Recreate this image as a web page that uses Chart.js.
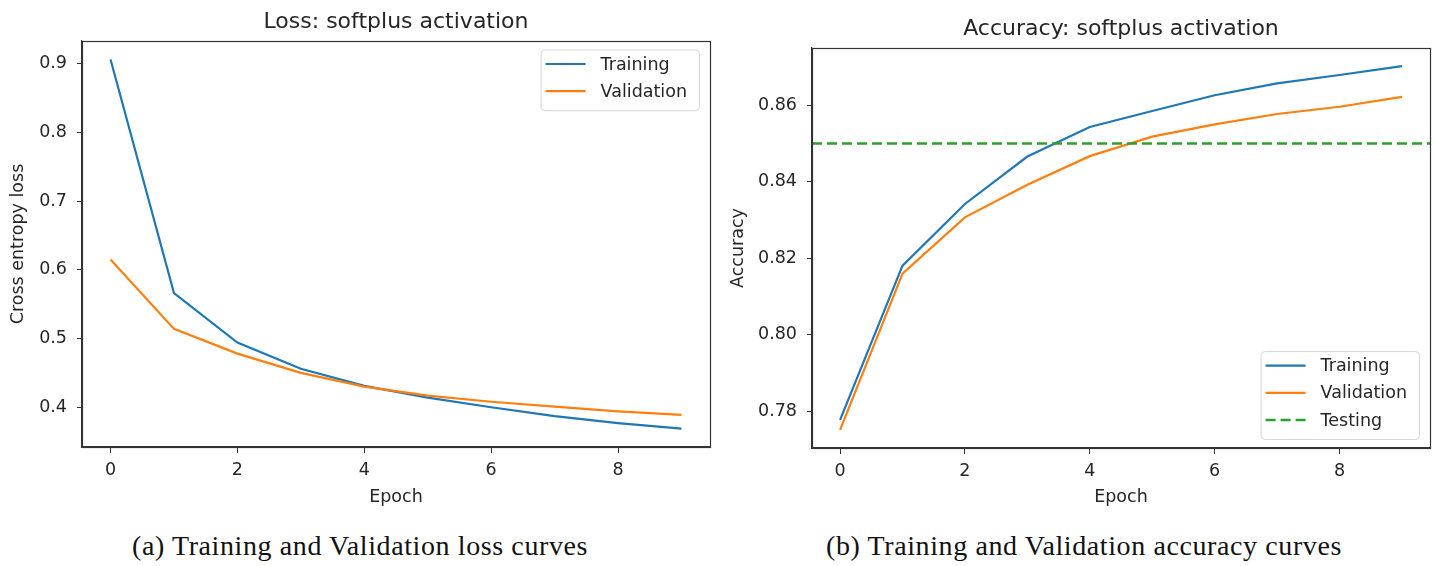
<!DOCTYPE html>
<html>
<head>
<meta charset="utf-8">
<script src="https://cdn.jsdelivr.net/npm/chart.js@4.4.0/dist/chart.umd.min.js"></script>
<style>
  html, body { margin: 0; padding: 0; background: #fff; }
  body { width: 1435px; height: 566px; position: relative; overflow: hidden; }
  .panel { position: absolute; top: 0; height: 520px; }
  .caption {
    position: absolute; top: 530px;
    font-family: "Liberation Serif", serif; font-size: 28px; line-height: 32px;
    letter-spacing: 0.6px;
    color: #111; white-space: nowrap; transform: translateX(-50%);
  }
</style>
</head>
<body>
<div class="panel" style="left:0;width:720px"><canvas id="lossChart" width="720" height="520"></canvas></div>
<div class="panel" style="left:720px;width:715px"><canvas id="accChart" width="715" height="520"></canvas></div>
<div class="caption" style="left:360px">(a) Training and Validation loss curves</div>
<div class="caption" style="left:1084px">(b) Training and Validation accuracy curves</div>
<script>
// softplus 학습 곡선 (loss / accuracy)

const epochs = [0, 1, 2, 3, 4, 5, 6, 7, 8, 9];
const lossTraining   = [0.906, 0.566, 0.494, 0.456, 0.431, 0.414, 0.400, 0.387, 0.377, 0.369];
const lossValidation = [0.615, 0.514, 0.478, 0.450, 0.430, 0.417, 0.408, 0.401, 0.394, 0.389];
const accTraining    = [0.7778, 0.8181, 0.8342, 0.8466, 0.8543, 0.8585, 0.8626, 0.8657, 0.8679, 0.8702];
const accValidation  = [0.7752, 0.8160, 0.8307, 0.8392, 0.8467, 0.8518, 0.8550, 0.8577, 0.8596, 0.8622];
const testAccuracy = 0.850;

const epochTicks = [0, 2, 4, 6, 8];
const lossTicks = [0.4, 0.5, 0.6, 0.7, 0.8, 0.9];
const accTicks = [0.78, 0.80, 0.82, 0.84, 0.86];

const BLUE = '#1f77b4';
const ORANGE = '#ff7f0e';
const GREEN = '#2ca02c';
const INK = '#262626';
const SPINE = '#333333';
const FONT = '"DejaVu Sans", sans-serif';
const TITLE_SIZE = 22;

Chart.defaults.font.family = FONT;
Chart.defaults.color = INK;

// matplotlib 기본 여백 (데이터 범위의 5%)
function paddedRange(values) {
    const lo = Math.min(...values);
    const hi = Math.max(...values);
    const pad = (hi - lo) * 0.05;
    return [lo - pad, hi + pad];
}

function points(ys) {
    return epochs.map((e, i) => ({ x: e, y: ys[i] }));
}

function roundRectPath(ctx, x, y, w, h, r) {
    ctx.beginPath();
    ctx.moveTo(x + r, y);
    ctx.lineTo(x + w - r, y);
    ctx.quadraticCurveTo(x + w, y, x + w, y + r);
    ctx.lineTo(x + w, y + h - r);
    ctx.quadraticCurveTo(x + w, y + h, x + w - r, y + h);
    ctx.lineTo(x + r, y + h);
    ctx.quadraticCurveTo(x, y + h, x, y + h - r);
    ctx.lineTo(x, y + r);
    ctx.quadraticCurveTo(x, y, x + r, y);
    ctx.closePath();
}

// 축 테두리 (4면)
const frame = {
    id: 'frame',
    afterDatasetsDraw(chart) {
        const a = chart.chartArea;
        const ctx = chart.ctx;
        ctx.save();
        ctx.strokeStyle = SPINE;
        ctx.lineWidth = 1.2;
        ctx.strokeRect(Math.round(a.left) + 0.5, Math.round(a.top) + 0.5,
            Math.round(a.right - a.left), Math.round(a.bottom - a.top));
        ctx.restore();
    }
};

// matplotlib 스타일 범례 박스
const boxLegend = {
    id: 'boxLegend',
    afterDraw(chart, args, opts) {
        const a = chart.chartArea;
        const ctx = chart.ctx;
        const items = chart.data.datasets;
        ctx.save();
        ctx.font = '17.5px ' + FONT;
        const textW = Math.max(...items.map(d => ctx.measureText(d.label).width));
        const w = 5 + 40 + 15 + textW + 12;
        const h = 14.5 + (items.length - 1) * 27.2 + 19;
        const x = a.right - 11 - w;
        const y = opts.loc === 'lower right' ? a.bottom - 9 - h : a.top + 8.5;

        roundRectPath(ctx, x + 0.5, y + 0.5, w, h, 4);
        ctx.fillStyle = 'rgba(255,255,255,0.8)';
        ctx.fill();
        ctx.strokeStyle = '#d6d6d6';
        ctx.lineWidth = 1;
        ctx.stroke();

        items.forEach((d, i) => {
            const cy = y + 14.5 + i * 27.2;
            ctx.strokeStyle = d.borderColor;
            ctx.lineWidth = d.borderWidth;
            ctx.setLineDash(d.borderDash || []);
            ctx.beginPath();
            ctx.moveTo(x + 5, cy);
            ctx.lineTo(x + 45, cy);
            ctx.stroke();
            ctx.setLineDash([]);
            ctx.fillStyle = INK;
            ctx.textBaseline = 'middle';
            ctx.textAlign = 'left';
            ctx.fillText(d.label, x + 60, cy + 1);
        });
        ctx.restore();
    }
};

function buildChart(canvasId, cfg) {
    const canvas = document.getElementById(canvasId);
    const W = canvas.width, H = canvas.height;
    const xRange = paddedRange(epochs);
    const titleLine = TITLE_SIZE * 1.2;

    return new Chart(canvas, {
        type: 'line',
        data: { datasets: cfg.datasets },
        plugins: [frame, boxLegend],
        options: {
            responsive: false,
            animation: false,
            layout: { padding: { left: 0, top: 0, right: W - cfg.area.right, bottom: 0 } },
            elements: { point: { radius: 0 }, line: { tension: 0 } },
            plugins: {
                legend: { display: false },
                tooltip: { enabled: false },
                title: {
                    display: true,
                    fullSize: false,   // 플롯 영역 기준 가운데 정렬
                    text: cfg.title,
                    color: INK,
                    font: { size: TITLE_SIZE, weight: 'normal' },
                    padding: { top: cfg.titleTop, bottom: cfg.area.top - cfg.titleTop - titleLine }
                },
                boxLegend: { loc: cfg.legendLoc }
            },
            scales: {
                x: {
                    type: 'linear',
                    min: xRange[0],
                    max: xRange[1],
                    afterBuildTicks: s => { s.ticks = epochTicks.map(v => ({ value: v })); },
                    afterFit: s => { s.height = H - cfg.area.bottom; },
                    grid: { drawOnChartArea: false, drawTicks: true, tickLength: 6, tickColor: SPINE },
                    border: { display: true, color: SPINE, width: 1.2 },
                    ticks: {
                        autoSkip: false, maxRotation: 0, padding: 7,
                        color: INK, font: { size: 17.5 },
                        callback: v => String(v)
                    },
                    title: {
                        display: true, text: 'Epoch', color: INK,
                        font: { size: 17.5 }, padding: { top: 0, bottom: 12 }
                    }
                },
                y: {
                    type: 'linear',
                    min: cfg.yRange[0],
                    max: cfg.yRange[1],
                    afterBuildTicks: s => { s.ticks = cfg.yTicks.map(v => ({ value: v })); },
                    afterFit: s => { s.width = cfg.area.left; },
                    grid: { drawOnChartArea: false, drawTicks: true, tickLength: 5, tickColor: SPINE },
                    border: { display: true, color: SPINE, width: 1.2 },
                    ticks: {
                        autoSkip: false, padding: 10,
                        color: INK, font: { size: 17.5 },
                        callback: v => Number(v).toFixed(cfg.decimals)
                    },
                    title: {
                        display: true, text: cfg.yLabel, color: INK,
                        font: { size: 17.5 }, padding: { top: 8, bottom: 0 }
                    }
                }
            }
        }
    });
}

const lossChart = buildChart('lossChart', {
    title: 'Loss: softplus activation',
    titleTop: 9.5,
    area: { left: 82, right: 710, top: 41, bottom: 447 },
    yRange: paddedRange(lossTraining.concat(lossValidation)),
    yTicks: lossTicks,
    decimals: 1,
    yLabel: 'Cross entropy loss',
    legendLoc: 'upper right',
    datasets: [
        { label: 'Training', data: points(lossTraining), borderColor: BLUE, borderWidth: 2.2, order: 2 },
        { label: 'Validation', data: points(lossValidation), borderColor: ORANGE, borderWidth: 2.2, order: 1 }
    ]
});

const xr = paddedRange(epochs);
const accChart = buildChart('accChart', {
    title: 'Accuracy: softplus activation',
    titleTop: 16.3,
    area: { left: 92, right: 710, top: 48, bottom: 448 },
    yRange: paddedRange(accTraining.concat(accValidation)),
    yTicks: accTicks,
    decimals: 2,
    yLabel: 'Accuracy',
    legendLoc: 'lower right',
    datasets: [
        { label: 'Training', data: points(accTraining), borderColor: BLUE, borderWidth: 2.2, order: 2 },
        { label: 'Validation', data: points(accValidation), borderColor: ORANGE, borderWidth: 2.2, order: 1 },
        { label: 'Testing', data: [{ x: xr[0], y: testAccuracy }, { x: xr[1], y: testAccuracy }],
          borderColor: GREEN, borderWidth: 2.5, borderDash: [10, 5], order: 0 }
    ]
});
</script>
</body>
</html>
